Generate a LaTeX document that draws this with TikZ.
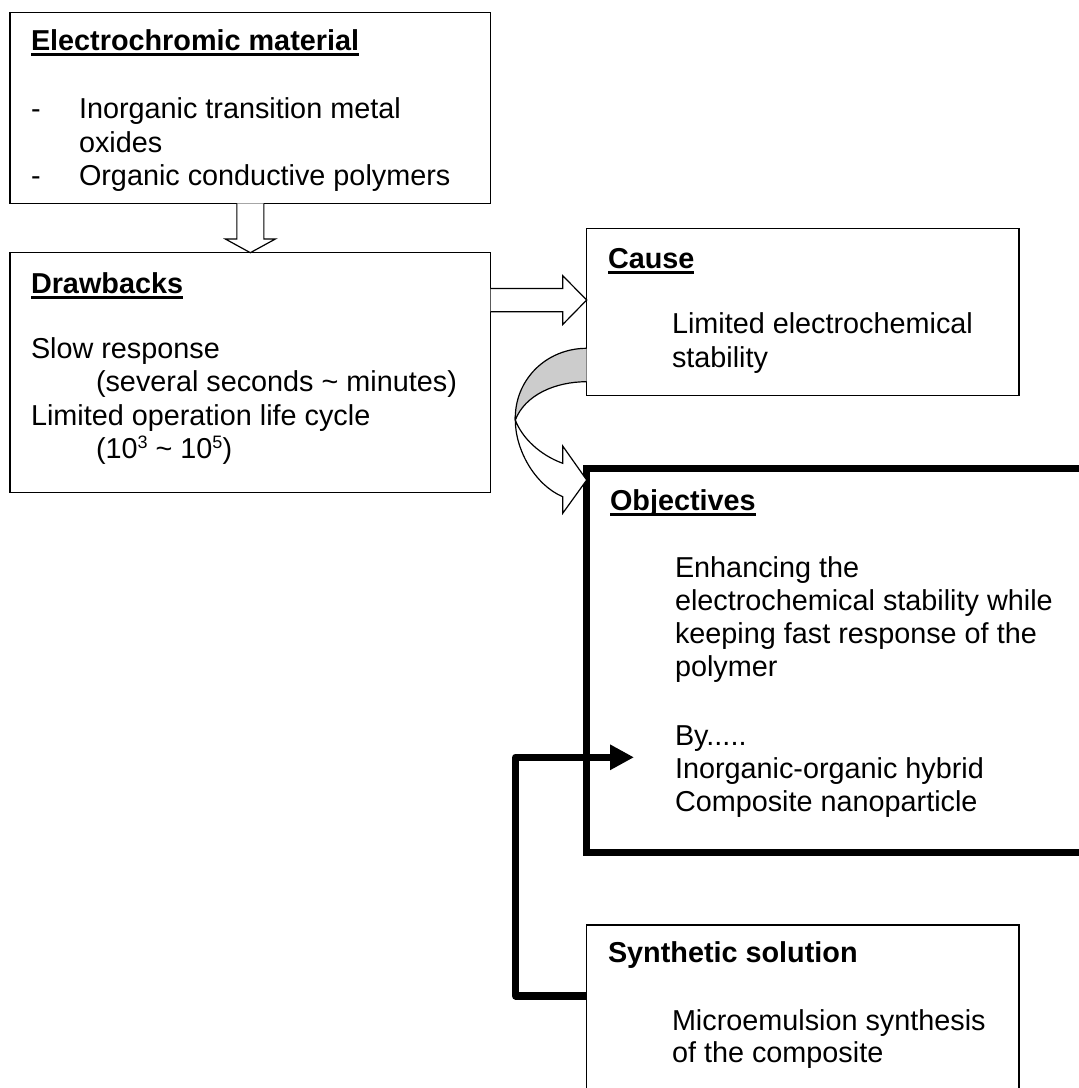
\documentclass[tikz,border=0pt]{standalone}
\usepackage{fontspec}
\setmainfont{Liberation Sans}
\usetikzlibrary{calc,arrows.meta}
\definecolor{bandgrey}{RGB}{204,204,204}
\newsavebox\ulbox
\newcommand\myul[1]{\sbox\ulbox{#1}\leavevmode\rlap{\rule[-5.8pt]{\wd\ulbox}{2.6pt}}\usebox\ulbox}
\newcommand\mysup[1]{\raisebox{9.5pt}{\fontsize{18}{18}\selectfont #1}}
\begin{document}
\begin{tikzpicture}[x=1pt,y=-1pt,
  box/.style={draw, line width=1.4pt, inner sep=0pt, outer sep=0pt, anchor=north west},
  txt/.style={anchor=base west, inner sep=0pt, outer sep=0pt, font=\fontsize{28.8}{33.3}\selectfont},
  hollow/.style={draw, fill=white, line width=1.2pt, line join=miter},
  thickconn/.style={draw, line width=7.5pt, line join=round, -{Triangle[length=24pt,width=24pt]}}]
\useasboundingbox (0,0) rectangle (1079,1088);
\fill[white] (0,0) rectangle (1079,1088);

% boxes
\node[box, minimum width=480.7pt, minimum height=190.6pt] (em) at (10,12.7) {};
\node[box, minimum width=480.7pt, minimum height=239.6pt] (dr) at (10,252.7) {};
\node[box, minimum width=432.3pt, minimum height=167.2pt] (ca) at (586.7,228.5) {};
\node[box, line width=7.5pt, minimum width=520pt, minimum height=384pt] (ob) at (586.7,468.5) {};
\node[box, minimum width=432.3pt, minimum height=175pt] (sy) at (586.7,925) {};

% down hollow arrow
\draw[hollow] ($(em.south)+(-13.5,0)$) -- ++(0,35.7) -- ++(-11.5,0) -- (dr.north)
  -- ($(em.south)+(25,35.7)$) -- ++(-11.5,0) -- ($(em.south)+(13.5,0)$);

% right hollow arrow
\coordinate (tipR) at ($(ca.north west)+(0,71.5)$);
\draw[hollow] ($(dr.north east)+(0,35.8)$) -- ++(72,0) -- ++(0,-12.8) -- (tipR)
  -- ($(dr.north east)+(72,71.8)$) -- ++(0,-12.8) -- ($(dr.north east)+(0,59)$);

% curved arrow
\coordinate (cT) at ($(ca.north west)+(0,119.8)$);
\coordinate (cT2) at ($(ca.north west)+(0,153.2)$);
\coordinate (cX) at (515.3,420);
\coordinate (cA) at (562.7,463.3);
\coordinate (cAh) at (562.7,446);
\coordinate (cTip) at ($(ob.north west)+(0,11.5)$);
\coordinate (cBh) at (562.7,513.3);
\coordinate (cB) at (562.7,496.7);
\draw[line width=1.2pt, fill=bandgrey, line join=round] (cT) .. controls (546,348.3) and (514.3,380) .. (cX)
  .. controls (525,395) and (555,381.7) .. (cT2);
\draw[line width=1.2pt, fill=white, line join=miter] (cX) .. controls (515.3,450) and (535,485) .. (cB)
  -- (cBh) -- (cTip) -- (cAh) -- (cA) .. controls (540,455) and (522,438) .. (cX) -- cycle;

% thick connector
\coordinate (bend) at (515.7,757.3);
\coordinate (arEnd) at (634,757.3);
\draw[thickconn] ($(sy.north west)+(0,71)$) -| (bend) -- (arEnd);

% texts: Electrochromic material
\node[txt] (t1) at (31,50) {\myul{\textbf{Electrochromic material}}};
\node[txt] (d1) at (31,118) {-};
\node[txt] (l11) at (79,118) {Inorganic transition metal};
\node[txt] (l12) at (79,152) {oxides};
\node[txt] (d2) at (31,185) {-};
\node[txt] (l13) at (79,185) {Organic conductive polymers};

% Drawbacks
\node[txt] (t2) at (31,293) {\myul{\textbf{Drawbacks}}};
\node[txt] (l21) at (31,358) {Slow response};
\node[txt] (l22) at (96,391.5) {(several seconds \textasciitilde{} minutes)};
\node[txt] (l23) at (31,425) {Limited operation life cycle};
\node[txt] (l24) at (96,458) {(10\mysup{3} \textasciitilde{} 10\mysup{5})};

% Cause
\node[txt] (t3) at (608,268) {\myul{\textbf{Cause}}};
\node[txt] (l31) at (672,333) {Limited electrochemical};
\node[txt] (l32) at (672,367) {stability};

% Objectives
\node[txt] (t4) at (610,510) {\myul{\textbf{Objectives}}};
\node[txt] (l41) at (675,577) {Enhancing the};
\node[txt] (l42) at (675,610) {electrochemical stability while};
\node[txt] (l43) at (675,643) {keeping fast response of the};
\node[txt] (l44) at (675,676) {polymer};
\node[txt] (l45) at (675,745) {By.....};
\node[txt] (l46) at (675,778) {Inorganic-organic hybrid};
\node[txt] (l47) at (675,811) {Composite nanoparticle};

% Synthetic solution
\node[txt] (t5) at (608,962) {\textbf{Synthetic solution}};
\node[txt] (l51) at (672,1030) {Microemulsion synthesis};
\node[txt] (l52) at (672,1062) {of the composite};
\end{tikzpicture}
\end{document}
